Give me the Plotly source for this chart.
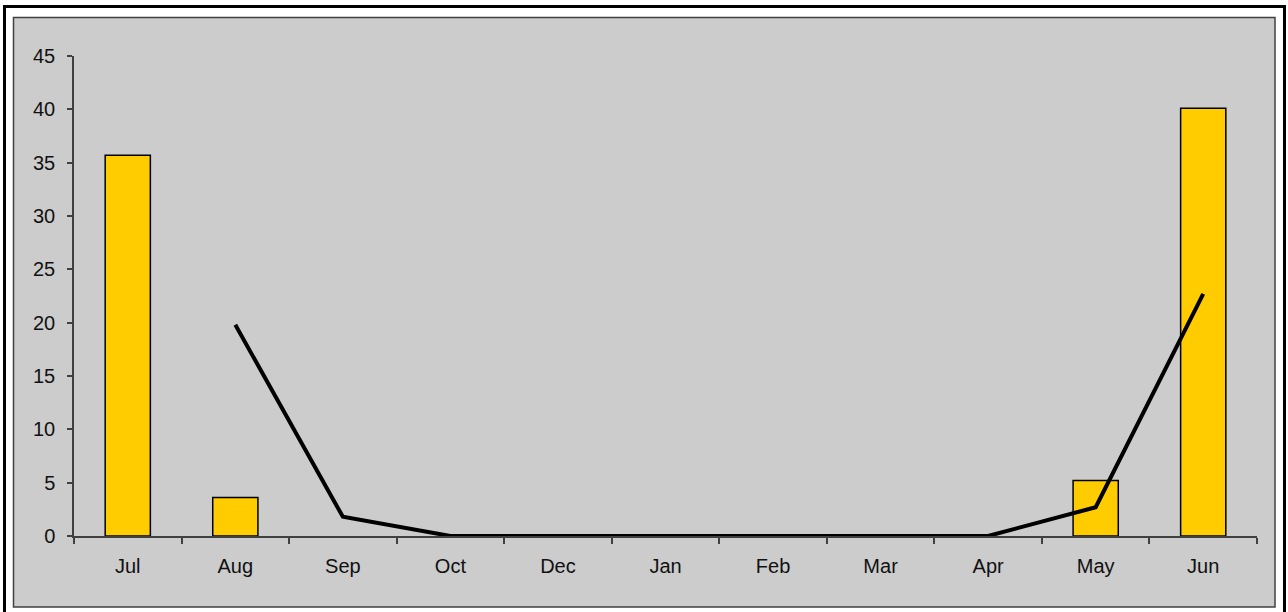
import plotly.graph_objects as go

months = ["Jul", "Aug", "Sep", "Oct", "Dec", "Jan", "Feb", "Mar", "Apr", "May", "Jun"]
bar_values = [35.7, 3.6, None, None, None, None, None, None, None, 5.2, 40.1]
line_values = [None, 19.8, 1.8, 0, 0, 0, 0, 0, 0, 2.7, 22.7]
y_ticks = [0, 5, 10, 15, 20, 25, 30, 35, 40, 45]

W, H = 1288, 612
L, R, T, B = 74, 1257, 56, 536
pw, ph = R - L, B - T

def px(x):
    return (x - L) / pw

def py(y):
    return (B - y) / ph

fig = go.Figure()
fig.add_trace(go.Bar(
    x=months, y=bar_values,
    marker=dict(color="#FFCC00", line=dict(color="#000000", width=1.5)),
    width=0.42, showlegend=False, hoverinfo="skip",
))
fig.add_trace(go.Scatter(
    x=months, y=line_values, mode="lines",
    line=dict(color="#000000", width=4),
    connectgaps=False, showlegend=False, hoverinfo="skip",
))

font = dict(family="Liberation Sans, Arial, sans-serif", size=20, color="#111111")

fig.update_layout(
    width=W, height=H,
    margin=dict(l=L, r=W - R, t=T, b=H - B, pad=0),
    paper_bgcolor="#FFFFFF",
    plot_bgcolor="#CCCCCC",
    font=font,
    xaxis=dict(
        type="category", range=[-0.5, len(months) - 0.5],
        showgrid=False, zeroline=False,
        showline=True, linecolor="#404040", linewidth=1.5,
        ticks="outside", ticklen=6, tickcolor="#404040", tickwidth=1.5,
        tickson="boundaries", tickfont=font, ticklabelstandoff=11,
        fixedrange=True,
    ),
    yaxis=dict(
        range=[0, 45], tickvals=y_ticks, ticktext=[str(v) for v in y_ticks],
        showgrid=False, zeroline=False,
        showline=True, linecolor="#404040", linewidth=1.5,
        ticks="outside", ticklen=5, tickcolor="#404040", tickwidth=1.5,
        tickfont=font, ticklabelstandoff=8,
        fixedrange=True,
    ),
    shapes=[
        dict(type="rect", xref="paper", yref="paper", layer="below",
             x0=px(13.5), x1=px(1275), y0=py(607), y1=py(17.5),
             fillcolor="#CCCCCC", line=dict(color="#404040", width=1.5)),
        dict(type="rect", xref="paper", yref="paper", layer="above",
             x0=px(4.5), x1=px(1284.5), y0=py(625), y1=py(6.5),
             fillcolor="rgba(0,0,0,0)", line=dict(color="#000000", width=3)),
    ],
)

fig.write_html(
    "out.html",
    config={"displayModeBar": False},
    post_script="document.body.style.margin='0';document.body.style.overflow='hidden';",
)
